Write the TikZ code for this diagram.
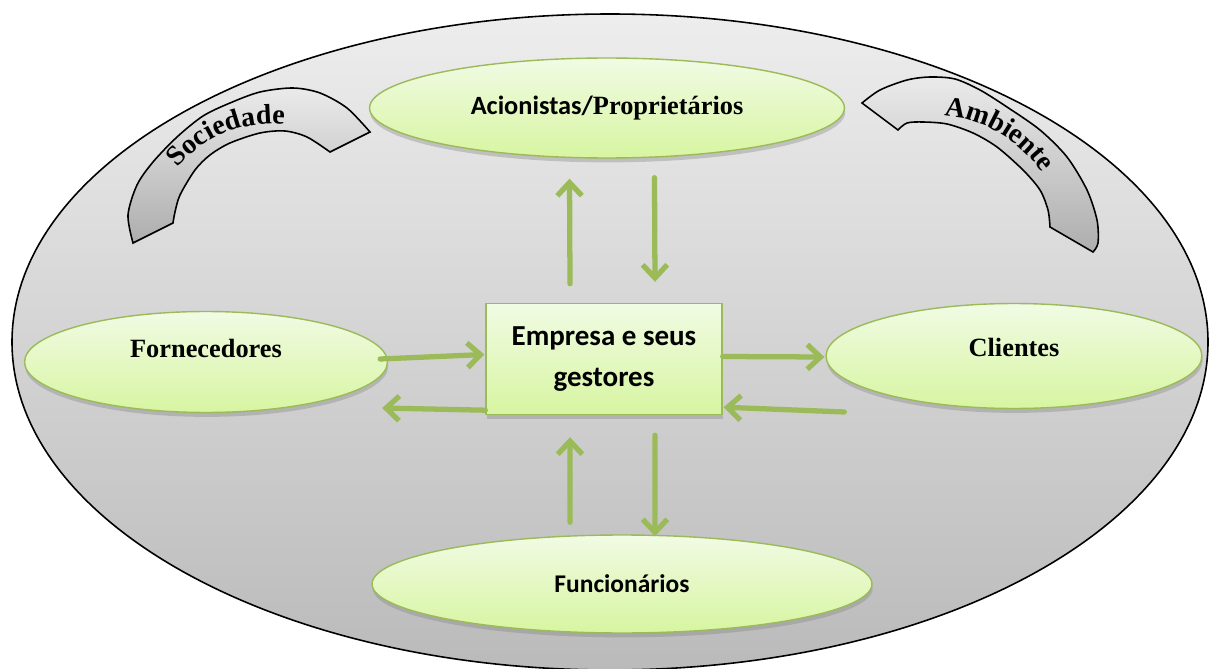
\documentclass[tikz,border=0pt]{standalone}
\usepackage{fontspec}
\setmainfont{Liberation Serif}
\newfontfamily\calibrifont{Carlito}
\usepackage{tikz}
\usetikzlibrary{shapes,arrows.meta}
\usetikzlibrary{positioning}
\usetikzlibrary{shadows,decorations.text}
\usetikzlibrary{calc}

\definecolor{olivegreen}{HTML}{9BBB59}
\definecolor{limetop}{HTML}{F1FBE4}
\definecolor{limebottom}{HTML}{D7F5A1}

\tikzstyle{stake} = [draw=olivegreen, ellipse, thick, top color=limetop,
bottom color=limebottom, drop shadow={opacity=0.35,shadow xshift=0.4pt,shadow yshift=-2.5pt},
font=\bfseries\fontsize{15}{17}\selectfont]
\tikzstyle{flow} = [draw=olivegreen, line width=3pt, -{Straight Barb[length=7.5pt,width=14pt]},
line cap=round, line join=round]

\begin{document}
\begin{tikzpicture}[x=0.02cm, y=0.02cm,
	band/.style={draw, line width=0.9pt, top color=black!8, bottom color=black!32},
	bandtext/.style={decorate, decoration={text along path, text align=center,
		text={|\bfseries\fontsize{16}{18}\selectfont|#1}}}]
	\useasboundingbox (0,0) rectangle (1211,-669);
	\fill[white] (0,0) rectangle (1211,-669);
	%% environment
	\shade[draw, line width=0.9pt, top color=black!7, bottom color=black!27]
		(610,-342) ellipse [x radius=598, y radius=328];
	%% curved bands
	\path[band] plot[smooth] coordinates {(133,-243) (128,-215) (137,-185) (153,-162) (177,-137)
		(203,-116) (230,-103) (260,-92) (293,-88) (320,-93) (347,-108) (370,-132)}
		-- plot[smooth] coordinates {(330,-152) (307,-137) (285,-131) (260,-133) (230,-143)
		(210,-155) (195,-170) (180,-195) (175,-212) (173,-223)} -- cycle;
	\path[band] plot[smooth] coordinates {(862,-103) (880,-90) (907,-80) (930,-77) (955,-79)
		(980,-90) (1007,-107) (1040,-130) (1067,-157) (1087,-190) (1097,-220) (1098,-243) (1093,-252)}
		-- plot[smooth] coordinates {(1050,-227) (1048,-210) (1040,-190) (1023,-170) (997,-147)
		(973,-133) (947,-124) (923,-122) (907,-123) (898,-130)} -- cycle;
	\path[bandtext=Sociedade] (270,-243) ++(157:119) arc[start angle=157, end angle=67, radius=119];
	\path[bandtext=Ambiente] (935,-245) ++(105:129) arc[start angle=105, end angle=15, radius=129];
	%% stakeholders
	\node [stake, minimum width=9.5cm, minimum height=2cm] (acion) at (607,-108)
		{{\calibrifont Acionistas/}Proprietários};
	\node [stake, minimum width=7.26cm, minimum height=2.02cm, text depth=0.55cm] (forn) at (206,-362) {Fornecedores};
	\node [stake, minimum width=7.52cm, minimum height=2.1cm, text depth=0.35cm] (client) at (1014,-356) {Clientes};
	\node [stake, minimum width=10cm, minimum height=1.96cm,
		font=\calibrifont\bfseries\fontsize{14.5}{17}\selectfont] (func) at (622,-584) {Funcionários};
	\node [draw=olivegreen, thick, top color=limetop, bottom color=limebottom,
		drop shadow={opacity=0.35,shadow xshift=0.4pt,shadow yshift=-2.5pt},
		minimum width=4.72cm, minimum height=2.22cm, align=center,
		font=\calibrifont\bfseries\fontsize{16.5}{23}\selectfont] (box) at (604,-359) {Empresa e seus\\gestores};
	%% Flows
	\draw [flow] ([xshift=-0.68cm, yshift=0.38cm]box.north) -- ([xshift=-0.75cm, yshift=-0.4cm]acion.south);
	\draw [flow] ([xshift=0.95cm, yshift=-0.38cm]acion.south) -- ([xshift=1.02cm, yshift=0.42cm]box.north);
	\draw [flow] ([xshift=-0.16cm, yshift=0.06cm]forn.east) -- ([xshift=-0.02cm, yshift=0.09cm]box.west);
	\draw [flow] ([yshift=0.1cm]box.south west) -- ([xshift=-0.12cm, yshift=-0.92cm]forn.east);
	\draw [flow] ([yshift=0.05cm]box.east) -- ([xshift=-0.02cm, yshift=-0.02cm]client.west);
	\draw [flow] ([xshift=0.38cm, yshift=-1.12cm]client.west) -- ([xshift=0.02cm, yshift=0.16cm]box.south east);
	\draw [flow] ([xshift=-1.04cm, yshift=0.24cm]func.north) -- ([xshift=-0.68cm, yshift=-0.44cm]box.south);
	\draw [flow] ([xshift=1.02cm, yshift=-0.4cm]box.south) -- ([xshift=0.66cm, yshift=-0.04cm]func.north);
\end{tikzpicture}
\end{document}
